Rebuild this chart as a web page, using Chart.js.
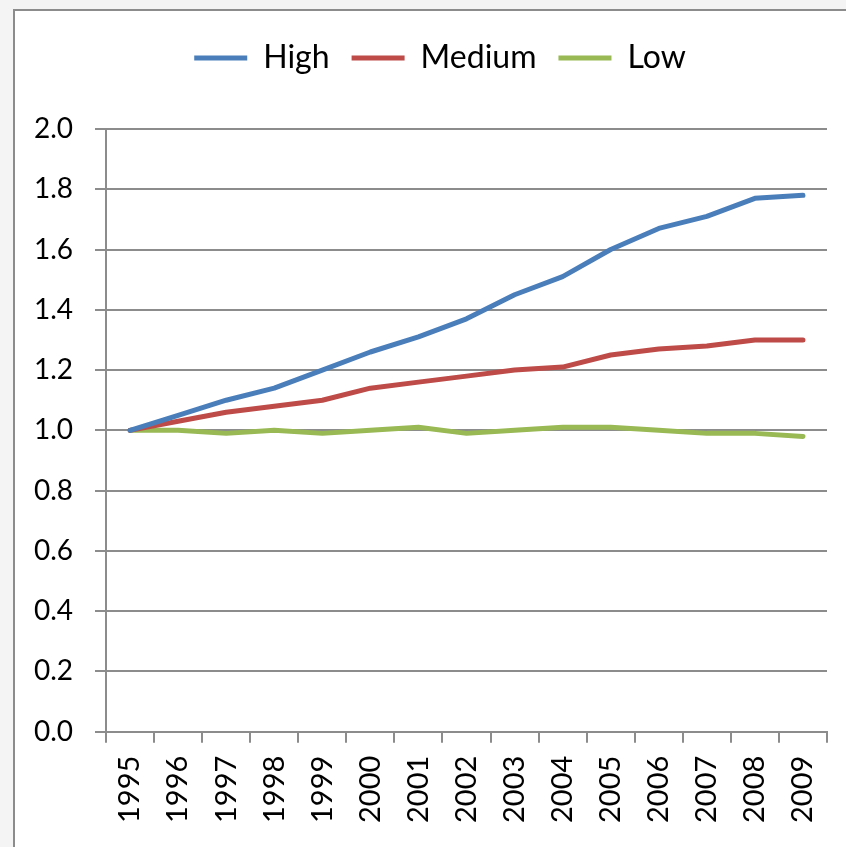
<!DOCTYPE html>
<html>
<head>
<meta charset="utf-8">
<title>High / Medium / Low index, 1995–2009</title>
<script src="https://cdn.jsdelivr.net/npm/chart.js@4/dist/chart.umd.min.js"></script>
<style>
  html, body { margin: 0; padding: 0; width: 846px; height: 847px; overflow: hidden; background: #f4f4f4; }
  #frame { position: absolute; left: 13px; top: 9px; width: 900px; height: 900px; background: #ffffff; border: 2px solid #8c8c8c; }
  #chart { position: absolute; left: 0; top: 0; }
</style>
</head>
<body>
<div id="frame"></div>
<canvas id="chart" width="846" height="847"></canvas>
<script>
// Index values, 1995 = 1.0
const years  = ['1995', '1996', '1997', '1998', '1999', '2000', '2001', '2002', '2003', '2004', '2005', '2006', '2007', '2008', '2009'];
const high   = [1.00, 1.05, 1.10, 1.14, 1.20, 1.26, 1.31, 1.37, 1.45, 1.51, 1.60, 1.67, 1.71, 1.77, 1.78];
const medium = [1.00, 1.03, 1.06, 1.08, 1.10, 1.14, 1.16, 1.18, 1.20, 1.21, 1.25, 1.27, 1.28, 1.30, 1.30];
const low    = [1.00, 1.00, 0.99, 1.00, 0.99, 1.00, 1.01, 0.99, 1.00, 1.01, 1.01, 1.00, 0.99, 0.99, 0.98];

// Value axis range and step
const yMin = 0;
const yMax = 2;
const yStep = 0.2;

const axisGray = '#8c8c8c';
const fontFamily = 'Lato, "Open Sans", sans-serif';

// Legend block height (space between the top padding and the plot area)
const LEGEND_HEIGHT = 109;
// Horizontal nudge so the legend sits centred over the plot rather than the page
const LEGEND_SHIFT = 20;

function series(label, data, color) {
  return {
    label: label,
    data: data,
    borderColor: color,
    backgroundColor: color,
    borderWidth: 5,
    borderCapStyle: 'round',
    borderJoinStyle: 'round',
    pointRadius: 0,
    pointHoverRadius: 0,
    pointStyle: 'line',
    tension: 0,
    fill: false
  };
}

// Fixed legend height and a small horizontal offset for the legend row
const legendPlacement = {
  id: 'legendPlacement',
  beforeLayout(chart) {
    const legend = chart.legend;
    if (legend && !legend._placementPatched) {
      const fit = legend.fit;
      legend.fit = function () {
        fit.call(this);
        this.height = LEGEND_HEIGHT;
      };
      const draw = legend.draw;
      legend.draw = function () {
        this.left += LEGEND_SHIFT;
        this.right += LEGEND_SHIFT;
        draw.call(this);
        this.left -= LEGEND_SHIFT;
        this.right -= LEGEND_SHIFT;
      };
      legend._placementPatched = true;
    }
  }
};

new Chart(document.getElementById('chart'), {
  type: 'line',
  data: {
    labels: years,
    datasets: [
      series('High', high, '#4a7ebb'),
      series('Medium', medium, '#be4b48'),
      series('Low', low, '#98b954')
    ]
  },
  plugins: [legendPlacement],
  options: {
    responsive: false,
    animation: false,
    layout: { padding: { left: 13, right: 19, top: 20, bottom: 11 } },
    plugins: {
      tooltip: { enabled: false },
      legend: {
        position: 'top',
        align: 'center',
        labels: {
          usePointStyle: true,
          pointStyleWidth: 53,
          padding: 22,
          color: '#000000',
          font: { family: fontFamily, size: 32 }
        }
      }
    },
    scales: {
      x: {
        type: 'category',
        offset: true,
        border: { display: true, color: axisGray, width: 2 },
        grid: {
          offset: true,
          drawOnChartArea: false,
          drawTicks: true,
          tickLength: 11,
          color: axisGray,
          lineWidth: 2
        },
        ticks: {
          minRotation: 90,
          maxRotation: 90,
          autoSkip: false,
          padding: 13,
          color: '#000000',
          font: { family: fontFamily, size: 29 }
        },
        afterFit: function (scale) {
          scale.paddingLeft = 0;
          scale.paddingRight = 0;
        }
      },
      y: {
        min: yMin,
        max: yMax,
        border: { display: true, color: axisGray, width: 2 },
        grid: {
          drawOnChartArea: true,
          drawTicks: true,
          tickLength: 11,
          color: axisGray,
          lineWidth: 2
        },
        ticks: {
          stepSize: yStep,
          padding: 22,
          color: '#000000',
          font: { family: fontFamily, size: 28 },
          callback: function (value) { return Number(value).toFixed(1); }
        },
        afterFit: function (scale) { scale.width = 93; }
      }
    }
  }
});
</script>
</body>
</html>
